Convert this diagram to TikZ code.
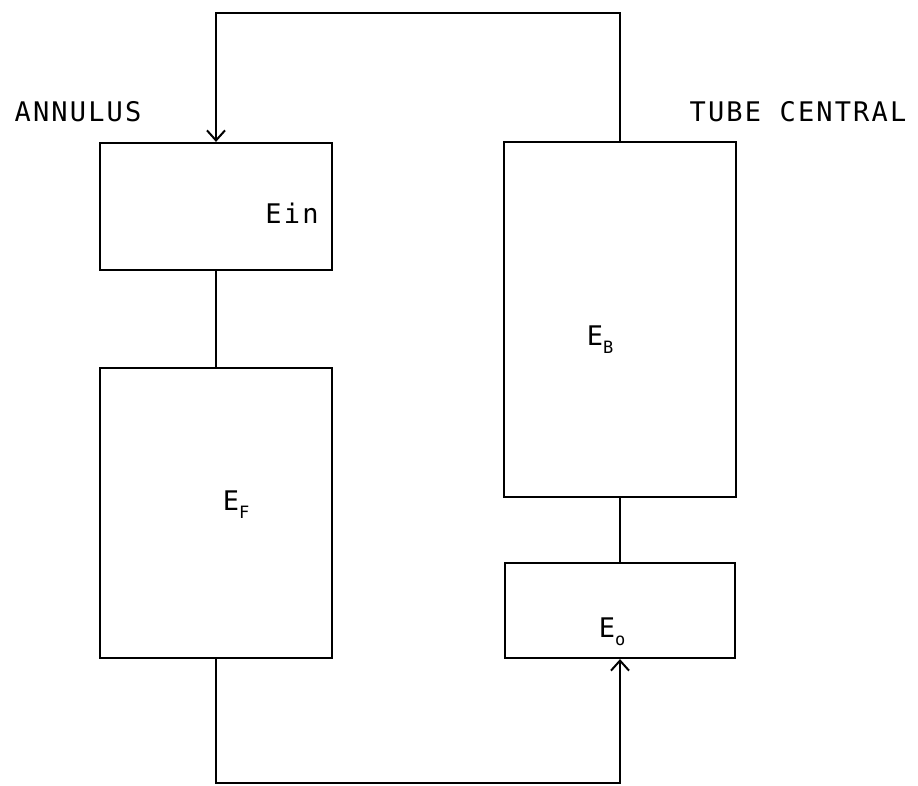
\documentclass[tikz,border=0pt]{standalone}
\usepackage{fontspec}
\setmainfont{DejaVu Sans Mono}[LetterSpace=8]
\usetikzlibrary{arrows.meta}
\newcommand{\subtxt}[1]{\raisebox{-0.3em}{\fontsize{17}{17}\selectfont #1}}
\begin{document}
\begin{tikzpicture}[x=1pt,y=-1pt,
  box/.style={draw,line width=2.2pt,minimum width=232pt,inner sep=0pt},
  lbl/.style={font=\fontsize{27}{27}\selectfont,inner sep=0pt},
  wire/.style={line width=2.2pt},
  arr/.style={wire,-{Straight Barb[length=10pt,width=18pt,line width=2pt]}}]
\useasboundingbox (0,0) rectangle (918,786);
\node[box,minimum height=127pt] (ein) at (216,206.5) {};
\node[box,minimum height=290pt] (ef) at (216,513) {};
\node[box,minimum height=355pt] (eb) at (620,319.5) {};
\node[box,minimum height=95pt,minimum width=230pt] (eo) at (620,610.5) {};
\coordinate (tl) at (216,13);
\coordinate (tr) at (620,13);
\coordinate (bl) at (216,783);
\coordinate (br) at (620,783);
\draw[arr] (eb.north) -- (tr) -- (tl) -- (ein.north);
\draw[wire] (ein.south) -- (ef.north);
\draw[wire] (eb.south) -- (eo.north);
\draw[arr] (ef.south) -- (bl) -- (br) -- (eo.south);
\node[lbl] (tann) at (78,112) {ANNULUS};
\node[lbl] (ttube) at (798,112) {TUBE CENTRAL};
\node[lbl] (tein) at (292,213) {Ein};
\node[lbl] (tef) at (236,505) {E\subtxt{F}};
\node[lbl] (teb) at (600,340) {E\subtxt{B}};
\node[lbl] (teo) at (612,632) {E\subtxt{o}};
\end{tikzpicture}
\end{document}
